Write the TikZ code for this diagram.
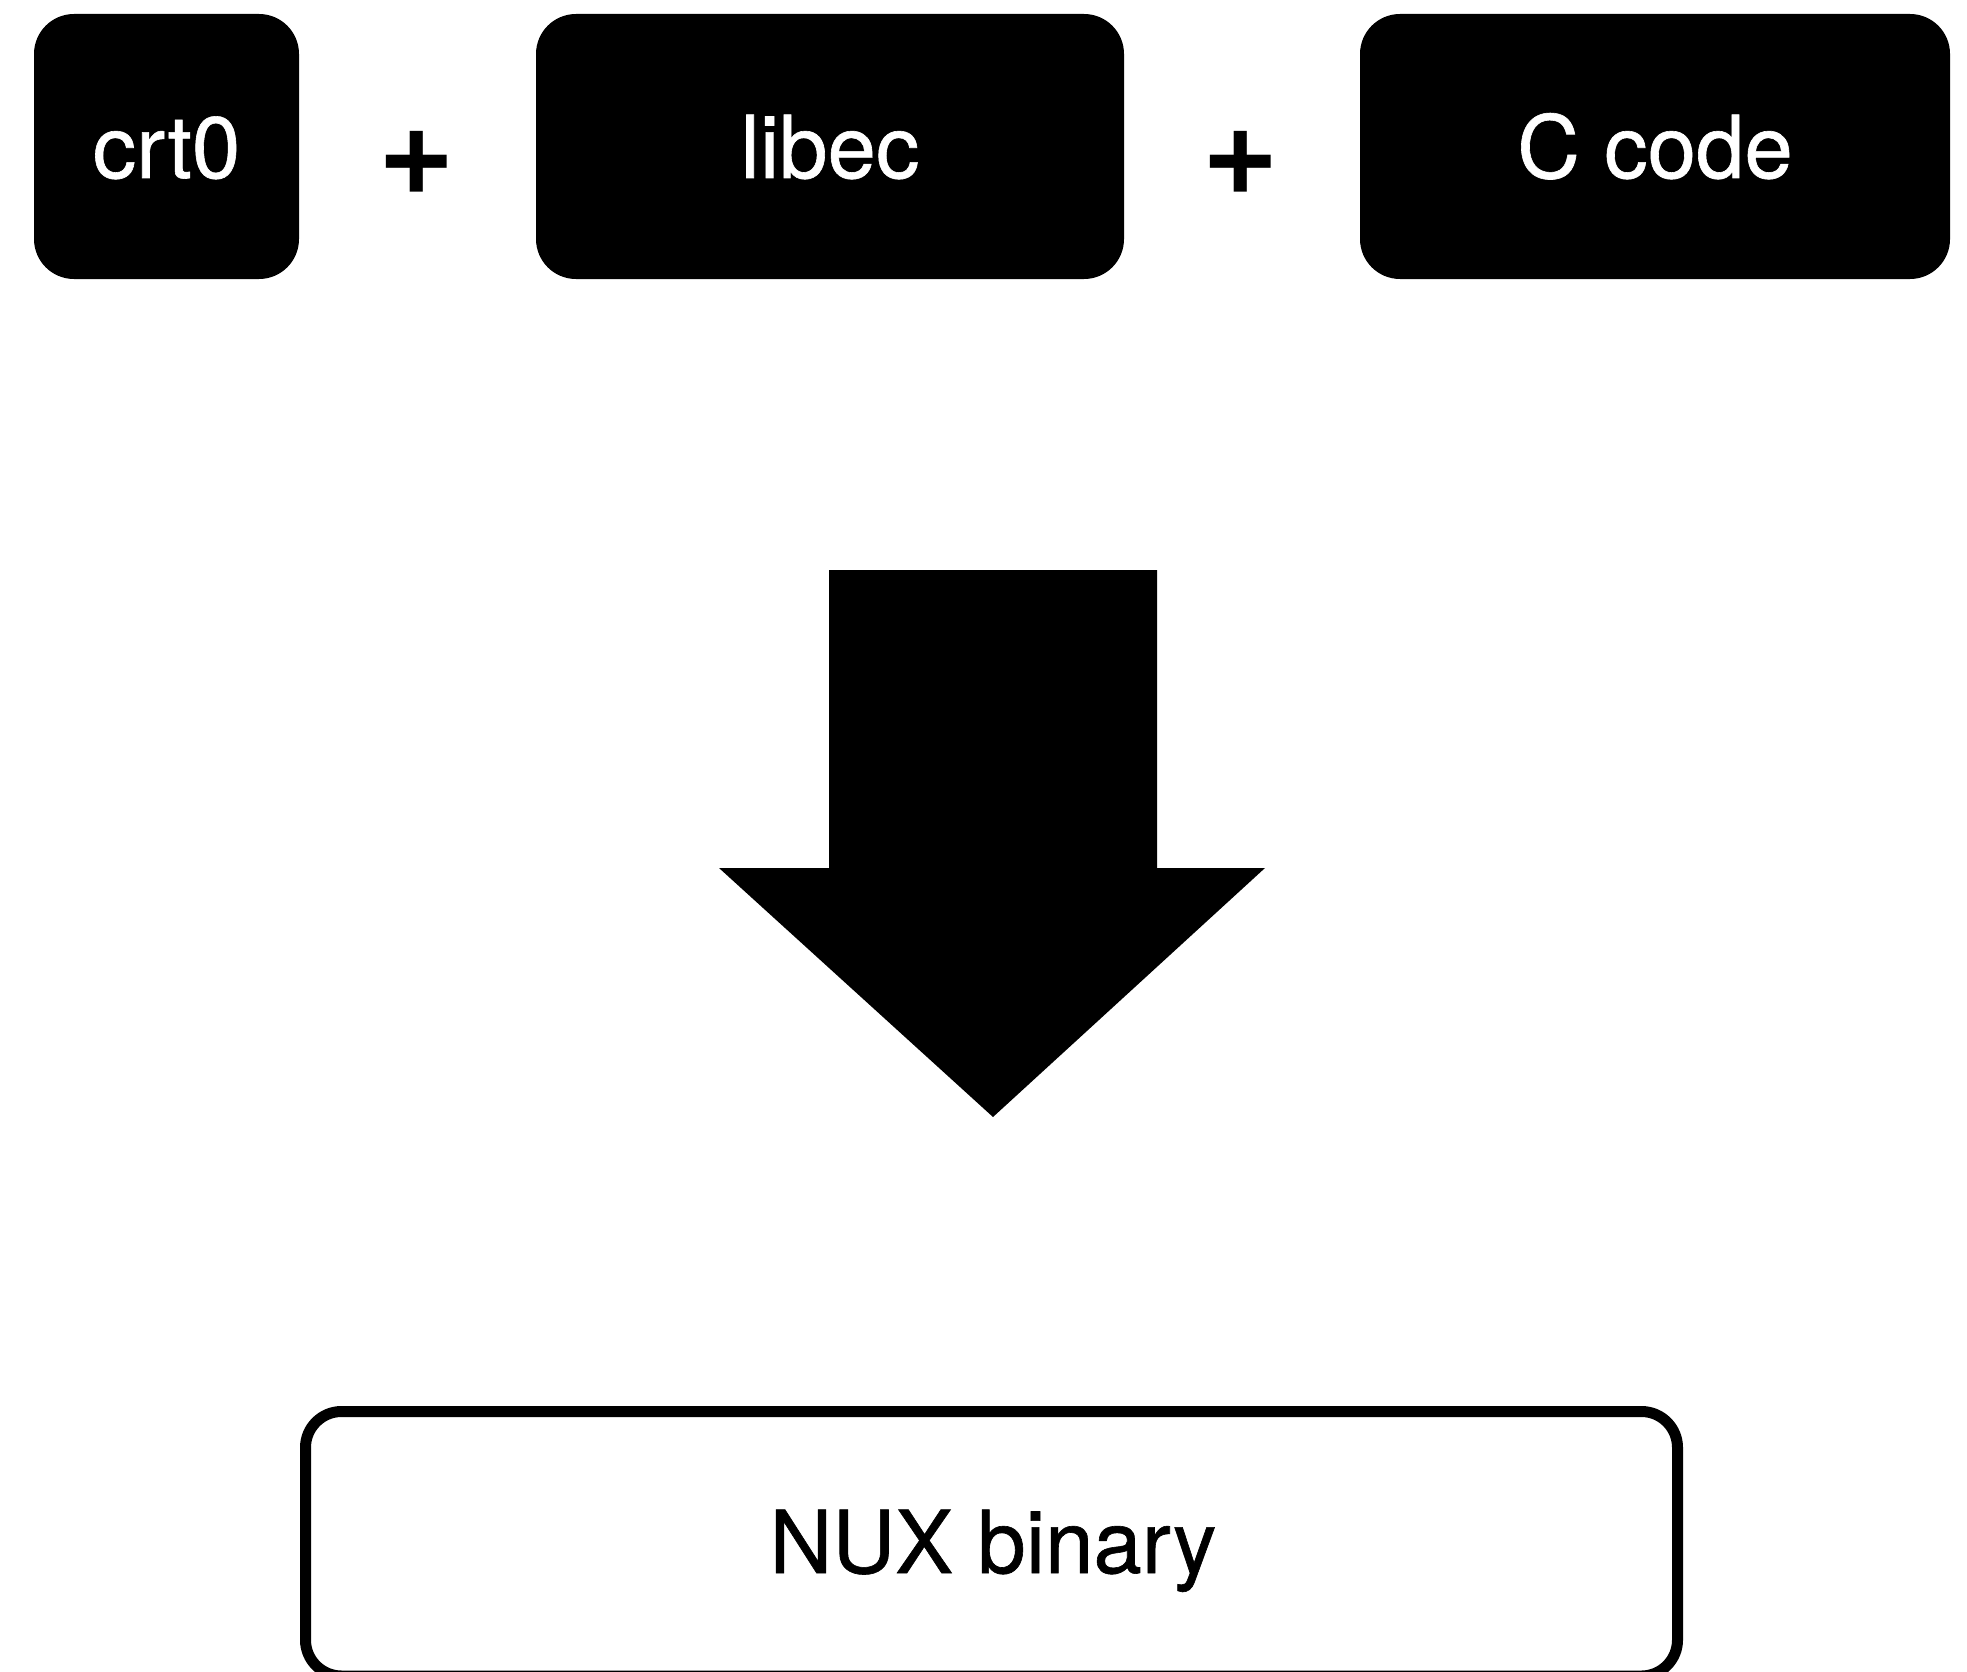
\documentclass[tikz,border=0pt]{standalone}
\usepackage{fontspec}
\setmainfont{TeX Gyre Heros}
\newfontfamily\lblfont{TeX Gyre Heros}[FakeBold=0.7]
\begin{document}
\begin{tikzpicture}[x=1pt,y=-1pt,
  srcbox/.style={fill=black,draw=none,rounded corners=40pt},
  srclabel/.style={text=white,anchor=base,inner sep=0pt,font=\lblfont\fontsize{87}{100}\selectfont},
  plussign/.style={anchor=base,inner sep=0pt,font=\bfseries\fontsize{131}{140}\selectfont},
  outbox/.style={draw=black,line width=11pt,fill=white,rounded corners=36pt},
  outlabel/.style={text=black,anchor=base,inner sep=0pt,font=\lblfont\fontsize{87}{100}\selectfont}]
\useasboundingbox (0,0) rectangle (1967,1672);
% source boxes
\path[srcbox] (34,14) rectangle (299,279);
\path[srcbox] (536,14) rectangle (1124,279);
\path[srcbox] (1360,14) rectangle (1950,279);
\node[srclabel] (crt) at (166.5,178) {crt0};
\node[srclabel] (libec) at (830,178) {libec};
\node[srclabel] (ccode) at (1655,178) {C code};
\node[plussign] (plusA) at (416.5,195) {+};
\node[plussign] (plusB) at (1240.5,195) {+};
% big arrow
\fill[black] (829,570) -- (1157,570) -- (1157,868) -- (1265,868) -- (993,1117)
  -- (719,868) -- (829,868) -- cycle;
% output box
\draw[outbox] (305.5,1411.5) rectangle (1677.5,1676);
\node[outlabel] (nux) at (993,1573) {NUX binary};
\end{tikzpicture}
\end{document}
